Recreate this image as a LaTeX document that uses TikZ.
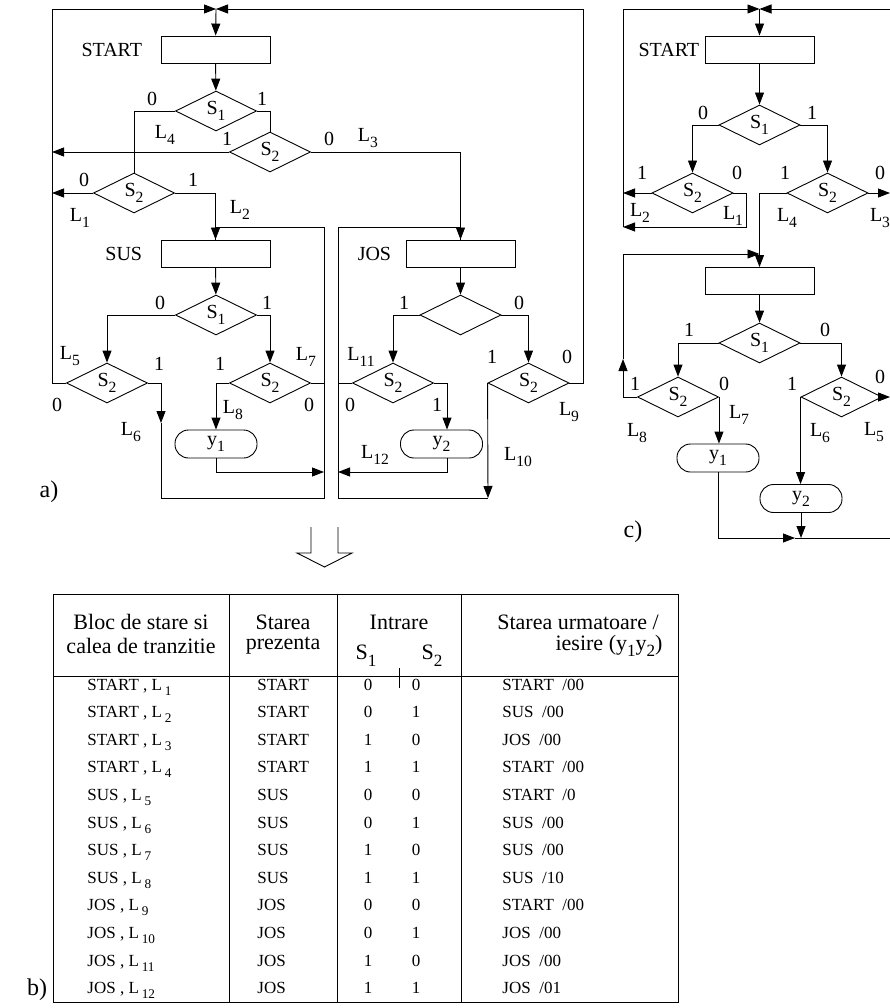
\documentclass[tikz,border=0pt]{standalone}
\usepackage{fontspec}
\setmainfont{Liberation Serif}
\usetikzlibrary{shapes.geometric,arrows.meta,positioning}
\newcommand{\indice}[1]{\raisebox{-0.3em}{\scalebox{0.78}{#1}}}

\begin{document}
\begin{tikzpicture}[
    x=1pt, y=-1pt, line width=0.9pt,
    font=\fontsize{20}{22}\selectfont,
    blok/.style={rectangle, draw, minimum width=109pt, minimum height=27pt, inner sep=0pt},
    decizie/.style={diamond, draw, aspect=2, minimum width=81pt, minimum height=40pt, inner sep=0pt},
    iesire/.style={rectangle, draw, rounded corners=13.5pt, minimum width=82pt, minimum height=28pt, inner sep=0pt},
    lbl/.style={inner sep=0pt},
    arr/.style={-{Triangle[length=12pt,width=9pt]}},
    tabtxt/.style={inner sep=0pt, anchor=base west, font=\fontsize{17}{19}\selectfont},
    hdr/.style={inner sep=0pt, font=\fontsize{22}{24}\selectfont},
    eticheta/.style={inner sep=0pt, font=\fontsize{24}{26}\selectfont}
]
    \useasboundingbox (0,0) rectangle (890,1008);

    % a) schema ASM
    \node[blok] (startA) at (215.5,49.5) {};
    \node[decizie] (s1A) at (216,111) {S\indice{1}};
    \node[decizie] (s2A2) at (270,152) {S\indice{2}};
    \node[decizie] (s2A1) at (134,193) {S\indice{2}};
    \node[blok] (susA) at (215.5,253.5) {};
    \node[decizie] (s1S) at (216,315) {S\indice{1}};
    \node[decizie] (s2S5) at (107,383) {S\indice{2}};
    \node[decizie] (s2S8) at (270,383) {S\indice{2}};
    \node[iesire] (y1A) at (216,444) {y\indice{1}};
    \node[blok] (josA) at (460.5,253.5) {};
    \node[decizie] (s1J) at (460.5,315) {};
    \node[decizie] (s2J11) at (393,383) {S\indice{2}};
    \node[decizie] (s2J9) at (528.5,383) {S\indice{2}};
    \node[iesire] (y2A) at (441.5,444) {y\indice{2}};

    \node[lbl, left=18pt of startA] (tStartA) {START};
    \node[lbl, left=18pt of susA] (tSusA) {SUS};
    \node[lbl, left=14pt of josA] (tJosA) {JOS};

    \coordinate (aTL) at (52,9);
    \coordinate (aTop) at (216,9);
    \coordinate (aTR) at (583,9);
    \coordinate (sTR) at (324,227);
    \coordinate (sBR) at (324,498);
    \coordinate (sBL) at (161,498);
    \coordinate (m6) at (161,423);
    \coordinate (sIn) at (324,472);
    \coordinate (jTL) at (338,227);
    \coordinate (jBL) at (338,498);
    \coordinate (jBR) at (488,498);
    \coordinate (jIn) at (338,472);

    \draw[arr] (s2S5.west) -| (aTL) -- (aTop);
    \draw[arr] (s2J9.east) -| (aTR) -- (aTop);
    \draw[arr] (aTop) -- (startA);
    \draw[arr] (startA) -- (s1A);
    \draw (s1A.west) -| (s2A1.north);
    \draw (s1A.east) -| (s2A2.north);
    \draw[arr] (s2A2.west) -- (s2A2.west -| aTL);
    \draw[arr] (s2A2.east) -| (josA.north);
    \draw[arr] (s2A1.west) -- (s2A1.west -| aTL);
    \draw[arr] (s2A1.east) -| (susA.north);
    \draw[arr] (susA) -- (s1S);
    \draw[arr] (s1S.west) -| (s2S5.north);
    \draw[arr] (s1S.east) -| (s2S8.north);
    \draw[arr] (s2S8.west) -| (y1A.north);
    \draw (s2S8.east) -- (s2S8.east -| sTR);
    \draw[arr] (s2S5.east) -| (m6);
    \draw (m6) -- (sBL) -- (sBR) -- (sTR) -| (susA.north);
    \draw[arr] (y1A.south) |- (sIn);
    \draw[arr] (josA) -- (s1J);
    \draw[arr] (s1J.west) -| (s2J11.north);
    \draw[arr] (s1J.east) -| (s2J9.north);
    \draw (s2J11.west) -- (s2J11.west -| jTL);
    \draw[arr] (s2J11.east) -| ([xshift=5.5pt]y2A.north);
    \draw[arr] ([xshift=5.5pt]y2A.south) |- (jIn);
    \draw[arr] (s2J9.west) -- (jBR);
    \draw (jBR) -- (jBL) -- (jTL) -| (josA.north);

    \node[lbl] (a0s1) at (152,99) {0};
    \node[lbl] (a1s1) at (262,99) {1};
    \node[lbl] (aL4) at (165,135) {L\indice{4}};
    \node[lbl] (a1s2r) at (227,139) {1};
    \node[lbl] (a0s2r) at (329,139) {0};
    \node[lbl] (aL3) at (368,138) {L\indice{3}};
    \node[lbl] (a0s2l) at (84,180) {0};
    \node[lbl] (a1s2l) at (193,180) {1};
    \node[lbl] (aL1) at (80,218) {L\indice{1}};
    \node[lbl] (aL2) at (240,210) {L\indice{2}};
    \node[lbl] (a0sus) at (160,303) {0};
    \node[lbl] (a1sus) at (267,303) {1};
    \node[lbl] (aL5) at (70,356) {L\indice{5}};
    \node[lbl] (a1s5) at (159,364) {1};
    \node[lbl] (a0s5) at (57,405) {0};
    \node[lbl] (aL6) at (131,432) {L\indice{6}};
    \node[lbl] (a1s8) at (220,364) {1};
    \node[lbl] (aL8) at (233,410) {L\indice{8}};
    \node[lbl] (a0s8) at (309,405) {0};
    \node[lbl] (aL7) at (306,357) {L\indice{7}};
    \node[lbl] (a1jos) at (404,303) {1};
    \node[lbl] (a0jos) at (519,303) {0};
    \node[lbl] (aL11) at (361,357) {L\indice{11}};
    \node[lbl] (a0s11) at (350,405) {0};
    \node[lbl] (a1s11) at (437,405) {1};
    \node[lbl] (a1s9) at (492,357) {1};
    \node[lbl] (a0s9) at (567,357) {0};
    \node[lbl] (aL9) at (569,412) {L\indice{9}};
    \node[lbl] (aL10) at (518,457) {L\indice{10}};
    \node[lbl] (aL12) at (375,455) {L\indice{12}};
    \node[eticheta] (etA) at (49,492) {a)};

    % sageata spre tabel
    \draw (311,527) -- (311,553) -- (297,553) -- (324.5,567) -- (352,553) -- (338,553) -- (338,527);

    % c) schema redusa
    \node[blok] (startC) at (759.5,49.5) {};
    \node[decizie] (s1C) at (759.5,125) {S\indice{1}};
    \node[decizie] (s2C1) at (692.5,193) {S\indice{2}};
    \node[decizie] (s2C2) at (827.5,193) {S\indice{2}};
    \node[blok] (stC) at (759.5,281) {};
    \node[decizie] (s1C2) at (759.5,343) {S\indice{1}};
    \node[decizie] (s2C3) at (678,397) {S\indice{2}};
    \node[decizie] (s2C4) at (841.5,397) {S\indice{2}};
    \node[iesire] (y1C) at (718,458) {y\indice{1}};
    \node[iesire] (y2C) at (801,498.5) {y\indice{2}};
    \node[lbl, left=5pt of startC] (tStartC) {START};

    \coordinate (cTL) at (623,9);
    \coordinate (cTop) at (759.5,9);
    \coordinate (cTR) at (892,9);
    \coordinate (cL1) at (623,227);
    \coordinate (cJ1) at (746,227);
    \coordinate (cUp) at (623,359);
    \coordinate (cL2) at (623,254);
    \coordinate (cB) at (795,538);
    \coordinate (cBR) at (892,538);
    \coordinate (cR3) at (890,193);
    \coordinate (cR5) at (890,397);

    \draw[arr] (cTR) -- (cTop);
    \draw[arr] (cL1) -- (cTL) -- (cTop);
    \draw[arr] (cTop) -- (startC);
    \draw[arr] (startC) -- (s1C);
    \draw[arr] (s1C.west) -| (s2C1.north);
    \draw[arr] (s1C.east) -| (s2C2.north);
    \draw[arr] (s2C1.west) -- (s2C1.west -| cTL);
    \draw[arr] (s2C1.east) -| (cJ1) -- (cL1);
    \draw[arr] (s2C2.east) -- (cR3);
    \draw[arr] (s2C2.west) -| (stC.north);
    \draw[arr] (stC) -- (s1C2);
    \draw[arr] (s1C2.west) -| (s2C3.north);
    \draw[arr] (s1C2.east) -| (s2C4.north);
    \draw[arr] (s2C3.west) -| (cUp);
    \draw[arr] (cUp) -- (cL2) -- (cL2 -| stC.north);
    \draw[arr] (s2C3.east) -- (s2C3.east |- y1C.north);
    \draw[arr] (y1C.south) |- (cB);
    \draw (cB) -- (cBR);
    \draw[arr] (s2C4.west) -- (s2C4.west |- y2C.north);
    \draw[arr] (y2C.south) -- (y2C.south |- cB);
    \draw[arr] (s2C4.east) -- (cR5);

    \node[lbl] (c0s1) at (703,113) {0};
    \node[lbl] (c1s1) at (812,113) {1};
    \node[lbl] (c1s2l) at (642,173) {1};
    \node[lbl] (c0s2l) at (737,173) {0};
    \node[lbl] (cL2t) at (640,213) {L\indice{2}};
    \node[lbl] (cL1t) at (733,216) {L\indice{1}};
    \node[lbl] (c1s2r) at (785,173) {1};
    \node[lbl] (c0s2r) at (880,173) {0};
    \node[lbl] (cL4t) at (787,218) {L\indice{4}};
    \node[lbl] (cL3t) at (880,218) {L\indice{3}};
    \node[lbl] (c1s1b) at (689,330) {1};
    \node[lbl] (c0s1b) at (825,330) {0};
    \node[lbl] (c1s3) at (635,384) {1};
    \node[lbl] (c0s3) at (724,384) {0};
    \node[lbl] (cL8t) at (637,433) {L\indice{8}};
    \node[lbl] (cL7t) at (739,415) {L\indice{7}};
    \node[lbl] (c1s4) at (792,384) {1};
    \node[lbl] (c0s4) at (880,377) {0};
    \node[lbl] (cL6t) at (820,433) {L\indice{6}};
    \node[lbl] (cL5t) at (874,432) {L\indice{5}};
    \node[eticheta] (etC) at (633,532) {c)};

    % b) tabelul
    \draw (53,594) rectangle (678,1002);
    \draw (53,676) -- (678,676);
    \draw (229,594) -- (229,1002);
    \draw (337,594) -- (337,1002);
    \draw (461,594) -- (461,1002);
    \draw (399,668) -- (399,688);

    \node[hdr] (h1a) at (141,622) {Bloc de stare si};
    \node[hdr] (h1b) at (141,646) {calea de tranzitie};
    \node[hdr] (h2a) at (283,622) {Starea};
    \node[hdr] (h2b) at (283,646) {prezenta};
    \node[hdr] (h3a) at (399,622) {Intrare};
    \node[hdr] (h3b) at (366,656) {S\indice{1}};
    \node[hdr] (h3c) at (432,656) {S\indice{2}};
    \node[hdr] (h4a) at (578,622) {Starea urmatoare /};
    \node[hdr, anchor=east] (h4b) at (663,646) {iesire (y\indice{1}y\indice{2})};

    \foreach \bloc/\lnum/\va/\vb/\urm/\ys [count=\i from 0] in {
        START/1/0/0/START/00, START/2/0/1/SUS/00, START/3/1/0/JOS/00,
        START/4/1/1/START/00, SUS/5/0/0/START/0, SUS/6/0/1/SUS/00,
        SUS/7/1/0/SUS/00, SUS/8/1/1/SUS/10, JOS/9/0/0/START/00,
        JOS/10/0/1/JOS/00, JOS/11/1/0/JOS/00, JOS/12/1/1/JOS/01}
    {
        \node[tabtxt] (rb\i) at (87,{690+27.6*\i}) {\bloc\ , L\,\indice{\lnum}};
        \node[tabtxt] (rs\i) at (257,{690+27.6*\i}) {\bloc};
        \node[tabtxt, anchor=base] (ra\i) at (368,{690+27.6*\i}) {\va};
        \node[tabtxt, anchor=base] (rc\i) at (416,{690+27.6*\i}) {\vb};
        \node[tabtxt] (ru\i) at (502,{690+27.6*\i}) {\urm\enspace/\ys};
    }
    \node[eticheta] (etB) at (37,990) {b)};
\end{tikzpicture}
\end{document}
